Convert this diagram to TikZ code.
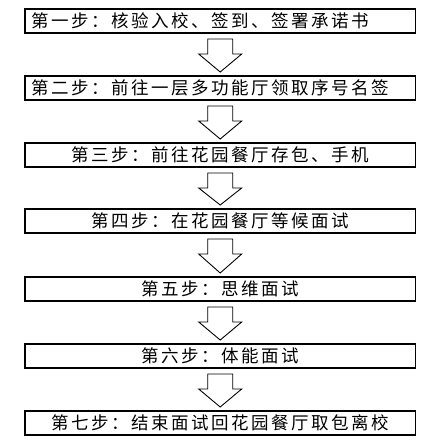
\documentclass[tikz,border=0pt]{standalone}
\usepackage{fontspec}
\setmainfont{Noto Sans CJK SC}
\newfontfamily\stepfont[LetterSpace=14.3]{Noto Sans CJK SC}
\usetikzlibrary{calc}
\tikzset{
  stepbox/.style={draw=black, line width=1.8pt, fill=white, minimum width=390.5pt, minimum height=24pt,
    inner xsep=7pt, inner ysep=0pt, outer sep=0pt, text width=376.5pt,
    text height=15pt, text depth=2.5pt,
    font=\stepfont\fontsize{17.5}{18}\selectfont},
  arrowline/.style={draw=black, line width=0.9pt, line join=miter, fill=white}
}
\newcommand\blkarrow[2]{\draw[arrowline] ($(#1.south)+(-12.5,6)$) -- ++(0,15) -- ++(-9,0) -- ($(#2.north)+(0,-4)$) -- ($(#1.south)+(21.5,21)$) -- ++(-9,0) -- ++(0,-15) -- cycle;}
\begin{document}
\begin{tikzpicture}[x=1pt,y=-1pt]
\useasboundingbox[fill=white] (0,0) rectangle (433,445);
\node[stepbox, align=left]   (s1) at (220.2,21)  {第一步：核验入校、签到、签署承诺书};
\node[stepbox, align=left]   (s2) at (220.2,88)  {第二步：前往一层多功能厅领取序号名签};
\node[stepbox, align=center] (s3) at (220.2,155) {第三步：前往花园餐厅存包、手机};
\node[stepbox, align=center] (s4) at (220.2,221) {第四步：在花园餐厅等候面试};
\node[stepbox, align=center] (s5) at (220.2,289) {第五步：思维面试};
\node[stepbox, align=center] (s6) at (220.2,356) {第六步：体能面试};
\node[stepbox, align=center] (s7) at (220.2,423) {第七步：结束面试回花园餐厅取包离校};
\blkarrow{s1}{s2}
\blkarrow{s2}{s3}
\blkarrow{s3}{s4}
\blkarrow{s4}{s5}
\blkarrow{s5}{s6}
\blkarrow{s6}{s7}
\end{tikzpicture}
\end{document}
